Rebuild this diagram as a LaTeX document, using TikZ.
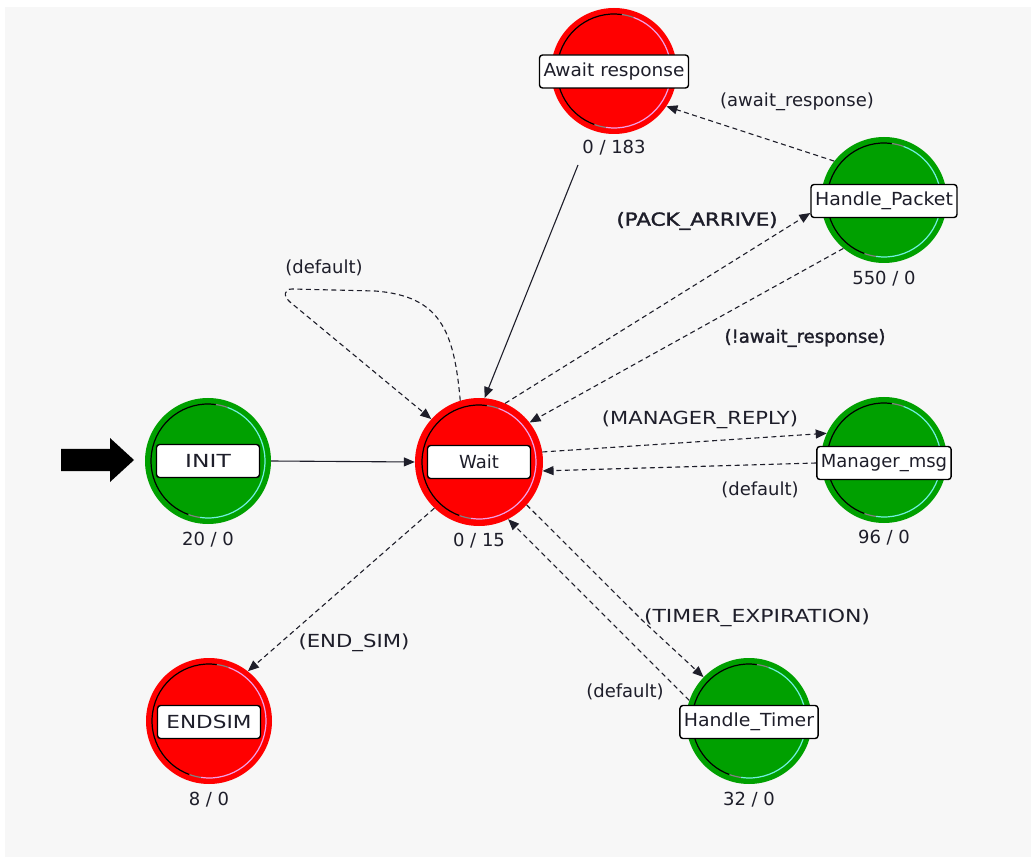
\documentclass[tikz,border=0pt]{standalone}
\usepackage{fontspec}
\setmainfont{DejaVu Sans}
\newfontfamily\heavyfont[FakeBold=1.6]{DejaVu Sans}
\usetikzlibrary{arrows.meta,calc}

\definecolor{bggray}{HTML}{F7F7F7}
\definecolor{stred}{HTML}{FF0000}
\definecolor{stgreen}{HTML}{00A000}
\definecolor{redlite}{HTML}{F0A0E8}
\definecolor{greenlite}{HTML}{70F0E0}
\definecolor{ringgray}{HTML}{808080}
\definecolor{ink}{HTML}{1E1E2A}

\newcommand\fs{\fontsize{18pt}{20pt}\selectfont}
% horizontally widened text for the capital-letter labels
\newcommand\widetext[2][1.2]{\scalebox{#1}[1]{#2}}

\tikzset{
  state/.style={circle, minimum size=126pt, inner sep=0pt, draw=none},
  redstate/.style={state, fill=stred},
  greenstate/.style={state, fill=stgreen},
  namebox/.style={draw=black, line width=1.4pt, fill=white, rounded corners=3pt,
    minimum width=103pt, minimum height=33pt, inner xsep=4pt, inner ysep=0pt,
    text=ink, font=\fs},
  count/.style={text=ink, font=\fs, inner sep=0pt},
  cond/.style={text=ink, font=\fs, inner sep=0pt},
  condb/.style={text=ink, font=\fs\heavyfont, inner sep=0pt},
  trans/.style={draw=ink, line width=1.1pt, -{Triangle[length=11pt,width=9pt]}},
  dashtrans/.style={trans, dash pattern=on 5pt off 3.5pt},
}

% inner ring of a state: dark arc on the left, light arc on the right
\newcommand\ringmarks[2]{%
  \draw[black, line width=1.2pt] ([shift={(82:57pt)}]#1.center) arc[start angle=82, end angle=250, radius=57pt];
  \draw[ringgray, line width=1.2pt] ([shift={(250:57pt)}]#1.center) arc[start angle=250, end angle=262, radius=57pt];
  \draw[ringgray, line width=1.2pt] ([shift={(70:57pt)}]#1.center) arc[start angle=70, end angle=82, radius=57pt];
  \draw[#2, line width=1.2pt] ([shift={(-98:57pt)}]#1.center) arc[start angle=-98, end angle=70, radius=57pt];
}

\begin{document}
\begin{tikzpicture}[x=1pt, y=-1pt]
  \useasboundingbox (0,0) rectangle (1031,858);
  \fill[white] (0,0) rectangle (1031,858);
  \fill[bggray] (5,7) rectangle (1031,857);

  % states
  \node[greenstate] (INIT)  at (208,461) {};
  \node[redstate, minimum size=128pt] (Wait) at (479,462) {};
  \node[redstate]   (Await) at (614,71)  {};
  \node[greenstate] (HP)    at (884,200) {};
  \node[greenstate] (Mgr)   at (884,460) {};
  \node[redstate]   (ENDSIM) at (209,721) {};
  \node[greenstate] (Timer) at (749,721) {};

  \ringmarks{INIT}{greenlite}
  \ringmarks{Wait}{redlite}
  \ringmarks{Await}{redlite}
  \ringmarks{HP}{greenlite}
  \ringmarks{Mgr}{greenlite}
  \ringmarks{ENDSIM}{redlite}
  \ringmarks{Timer}{greenlite}

  % state names
  \node[namebox] (INITl)   at (INIT.center)   {\widetext[1.3]{INIT}};
  \node[namebox] (Waitl)   at (Wait.center)   {Wait};
  \node[namebox] (Awaitl)  at ([yshift=-0.5pt]Await.center) {\widetext[1.03]{Await response}};
  \node[namebox] (HPl)     at ([yshift=-1pt]HP.center) {\widetext[1.05]{Handle\_Packet}};
  \node[namebox] (Mgrl)    at ([yshift=-3pt]Mgr.center) {Manager\_msg};
  \node[namebox] (ENDSIMl) at ([yshift=-1pt]ENDSIM.center) {\widetext{ENDSIM}};
  \node[namebox] (Timerl)  at ([yshift=-1pt]Timer.center) {\widetext[1.05]{Handle\_Timer}};

  % execution counts
  \node[count] (INITc)   at ([yshift=-79pt]INIT.center)   {20 / 0};
  \node[count] (Waitc)   at ([yshift=-79pt]Wait.center)   {0 / 15};
  \node[count] (Awaitc)  at ([yshift=-77pt]Await.center)  {0 / 183};
  \node[count] (HPc)     at ([yshift=-79pt]HP.center)     {550 / 0};
  \node[count] (Mgrc)    at ([yshift=-78pt]Mgr.center)    {96 / 0};
  \node[count] (ENDSIMc) at ([yshift=-79pt]ENDSIM.center) {8 / 0};
  \node[count] (Timerc)  at ([yshift=-79pt]Timer.center)  {32 / 0};

  % initial-state marker
  \fill[black] (61,449) -- (110,449) -- (110,438) -- (134,460) -- (110,482)
    -- (110,471) -- (61,471) -- cycle;

  % transitions
  \coordinate (awaitfoot) at (578,165);
  \draw[trans] (INIT.east) -- (Wait.west);
  \draw[trans] (awaitfoot) -- (Wait.85);
  \draw[dashtrans] (Wait.107) .. controls (454,330) and (440,296) .. (375,291)
    -- (292,289) .. controls (284,289) and (283,296) .. (290,302) -- (Wait.138);
  \draw[dashtrans] (Wait.66) -- ([yshift=-12pt]HPl.west);
  \draw[dashtrans] (HP.230) -- (Wait.38);
  \draw[dashtrans] (HP.142) -- (Await.-34);
  \draw[dashtrans] (Wait.9) -- (Mgr.155);
  \draw[dashtrans] (Mgrl.west) -- (Wait.-8);
  \draw[dashtrans] (Wait.226) -- (ENDSIM.52);
  \draw[dashtrans] (Wait.-42) -- (643,621) -- (Timer.136);
  \draw[dashtrans] (Timer.161) -- (Wait.-63);

  % transition conditions
  \node[cond]  (c1) at (324,268) {(default)};
  \node[condb] (c2) at (697,221) {\widetext[1.19]{(PACK\_ARRIVE)}};
  \node[cond]  (c3) at (797,102) {(await\_response)};
  \node[condb] (c4) at (805,338) {(!await\_response)};
  \node[cond]  (c5) at (700,420) {\widetext[1.17]{(MANAGER\_REPLY)}};
  \node[cond]  (c6) at (760,490) {(default)};
  \node[cond]  (c7) at (354,643) {\widetext[1.18]{(END\_SIM)}};
  \node[cond]  (c8) at (757,618) {\widetext[1.22]{(TIMER\_EXPIRATION)}};
  \node[cond]  (c9) at (625,692) {(default)};
\end{tikzpicture}
\end{document}
